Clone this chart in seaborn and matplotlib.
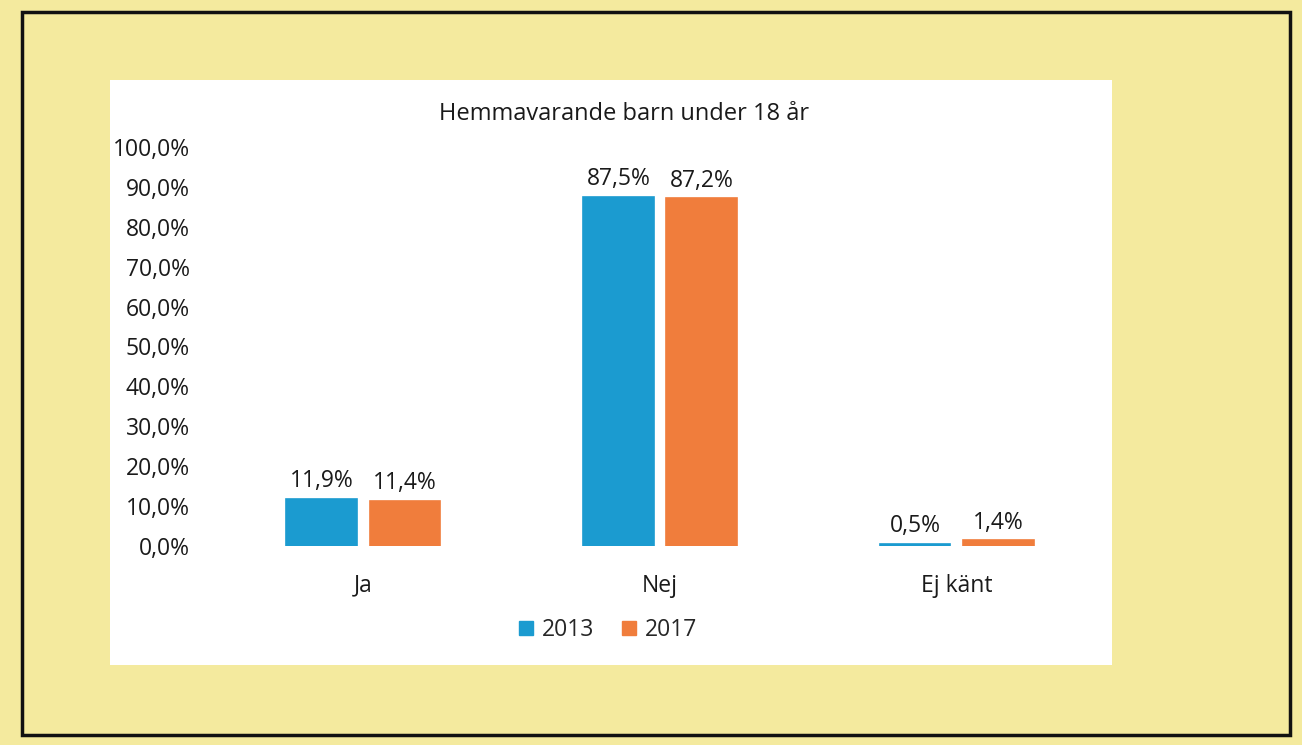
import matplotlib
matplotlib.use("Agg")
import matplotlib.pyplot as plt
import matplotlib.patches as mpatches
import seaborn as sns
import pandas as pd
from matplotlib.ticker import FuncFormatter

categories = ["Ja", "Nej", "Ej känt"]
years = ["2013", "2017"]
values_2013 = [11.9, 87.5, 0.5]
values_2017 = [11.4, 87.2, 1.4]
title = "Hemmavarande barn under 18 år"

df = pd.DataFrame({
    "kategori": categories * 2,
    "år": [years[0]] * 3 + [years[1]] * 3,
    "andel": values_2013 + values_2017,
})

sns.set_style("white")
plt.rcParams["font.family"] = ["Open Sans", "DejaVu Sans"]

fig = plt.figure(figsize=(13.02, 7.45), dpi=100)
fig.patch.set_facecolor("#f4ea9e")

# outer black frame
fig.add_artist(mpatches.Rectangle((22 / 1302, 1 - 735 / 745), (1290 - 22) / 1302, (735 - 12) / 745,
                                  transform=fig.transFigure, fill=False, edgecolor="#111111", lw=2.5))
# white panel
fig.add_artist(mpatches.Rectangle((110 / 1302, 1 - 665 / 745), (1112 - 110) / 1302, (665 - 80) / 745,
                                  transform=fig.transFigure, facecolor="white", edgecolor="none", zorder=0))

ax = fig.add_axes([215 / 1302, 1 - 546 / 745, 890 / 1302, (546 - 147) / 745])
ax.set_facecolor("none")
palette = {"2013": "#1b9bd0", "2017": "#f07d3c"}
sns.barplot(data=df, x="kategori", y="andel", hue="år", palette=palette, ax=ax,
            width=0.56, gap=0.15, saturation=1, legend=False)

for cont in ax.containers:
    for patch in cont.patches:
        patch.set_edgecolor(patch.get_facecolor())
        patch.set_linewidth(1.2)
    ax.bar_label(cont, labels=[f"{v:.1f}%".replace(".", ",") for v in cont.datavalues],
                 padding=4, fontsize=16.5, color="#1a1a1a")

ax.set_ylim(0, 100)
ax.set_xlim(-0.5, 2.5)
ax.set_yticks(range(0, 101, 10))
ax.yaxis.set_major_formatter(FuncFormatter(lambda v, p: f"{v:.1f}%".replace(".", ",")))
ax.tick_params(axis="y", length=0, pad=18, labelsize=16.5, labelcolor="#1a1a1a")
ax.tick_params(axis="x", length=0, pad=20, labelsize=16.5, labelcolor="#1a1a1a")
ax.set_xlabel("")
ax.set_ylabel("")
for s in ax.spines.values():
    s.set_visible(False)
ax.grid(False)

fig.text(624 / 1302, 1 - 114 / 745, title, ha="center", va="center", fontsize=17, color="#1a1a1a")

handles = [mpatches.Patch(color=palette[y], label=y) for y in years]
fig.legend(handles=handles, loc="center", bbox_to_anchor=(608 / 1302, 1 - 630 / 745), ncol=2,
           frameon=False, fontsize=16.5, handlelength=0.6, handleheight=0.6, handletextpad=0.4,
           columnspacing=1.2)

fig.savefig("out.png", dpi=100, facecolor=fig.get_facecolor())
